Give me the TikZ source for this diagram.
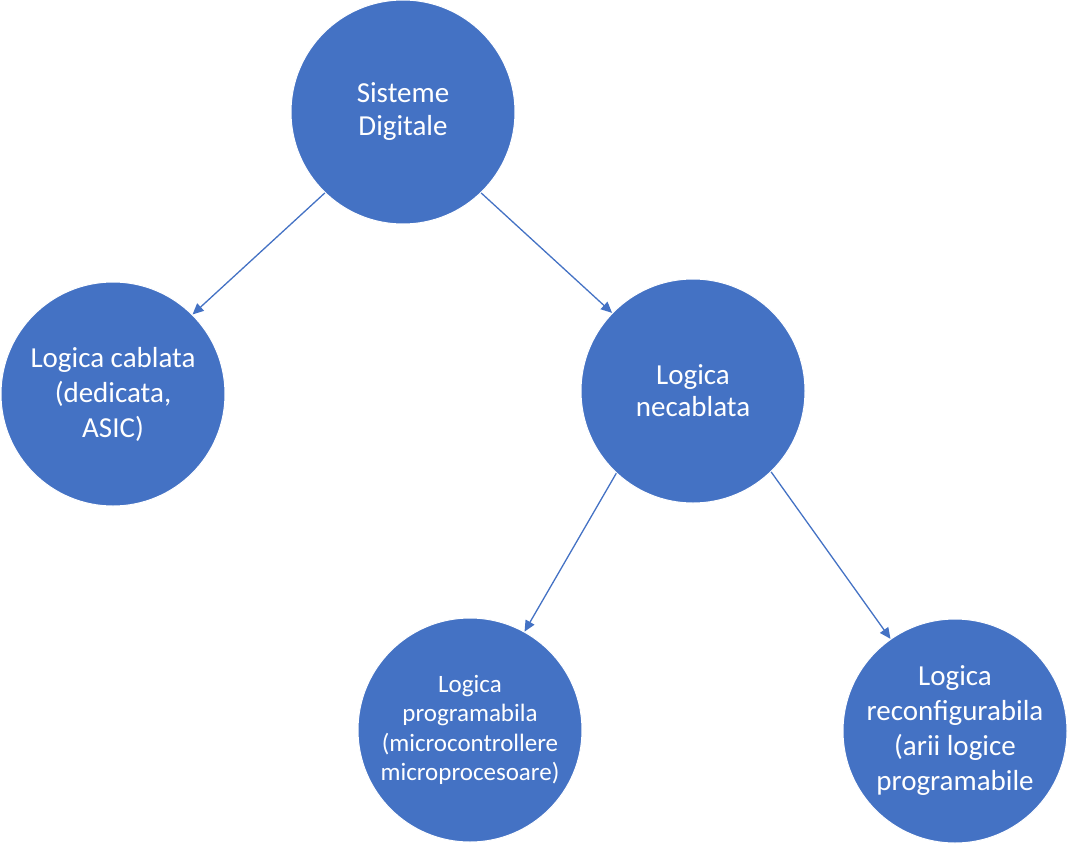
\documentclass[tikz,border=0pt]{standalone}
\usepackage{fontspec}
\setmainfont{Carlito}
\usetikzlibrary{arrows.meta}
\definecolor{nodeblue}{HTML}{4472C4}
\begin{document}
\begin{tikzpicture}[x=1pt,y=-1pt,
  bubble/.style={circle,fill=nodeblue,draw=white,line width=1pt,minimum size=224pt,inner sep=0pt,align=center,text=white,font=\fontsize{29}{35}\selectfont},
  smallbubble/.style={bubble,font=\fontsize{25}{29.5}\selectfont},
  conn/.style={draw=nodeblue,line width=1.3pt,-{Triangle[length=11pt,width=10pt]}}]
\useasboundingbox (0,0) rectangle (1069,844);
\node[bubble,font=\fontsize{29}{33}\selectfont] (sd) at (403,112) {Sisteme\\Digitale};
\node[bubble] (lc) at (113,394) {Logica cablata\\(dedicata,\\ASIC)};
\node[bubble,font=\fontsize{29}{32}\selectfont] (ln) at (693,391) {Logica\\necablata};
\node[smallbubble] (lp) at (470,730) {Logica\\programabila\\(microcontrollere\\microprocesoare)};
\node[bubble] (lr) at (955,731) {Logica\\reconfigurabila\\(arii logice\\programabile};
\draw[conn] (sd.226) -- (lc.45);
\draw[conn] (sd.314) -- (ln.136);
\draw[conn] (ln.227) -- (lp.61);
\draw[conn] (ln.314) -- (lr.125);
\end{tikzpicture}
\end{document}
